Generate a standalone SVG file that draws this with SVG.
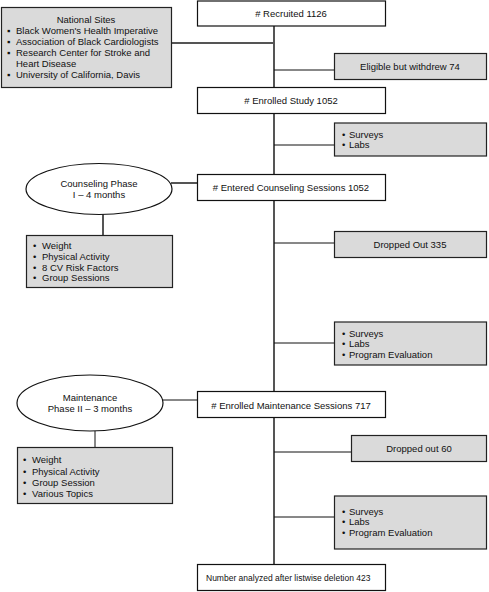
<svg xmlns="http://www.w3.org/2000/svg" width="489" height="592" viewBox="0 0 489 592">
<style>
text{font-family:"Liberation Sans",Arial,sans-serif;font-size:9.5px;fill:#111}
.c{text-anchor:middle}
.w{fill:#fff;stroke:#111;stroke-width:1.2}
.g{fill:#dadada;stroke:#222;stroke-width:1.2}
.trunk{stroke:#555;stroke-width:2;fill:none}
.br{stroke:#111;stroke-width:1;fill:none}
.sm{font-size:8.5px}
</style>
<rect width="489" height="592" fill="#fff"/>
<g id="connectors">
<line class="trunk" x1="274" y1="26" x2="274" y2="565"/>
<line class="trunk" x1="172" y1="43" x2="274" y2="43"/>
<line class="br" x1="274" y1="70" x2="334" y2="70"/>
<line class="br" x1="274" y1="145" x2="334" y2="145"/>
<line class="br" x1="274" y1="243" x2="334" y2="243"/>
<line class="br" x1="274" y1="343" x2="334" y2="343"/>
<line class="br" x1="274" y1="452" x2="351" y2="452"/>
<line class="br" x1="274" y1="517" x2="334" y2="517"/>
<line class="trunk" x1="171" y1="183" x2="197" y2="183"/>
<line class="trunk" x1="103" y1="214" x2="103" y2="235"/>
<line class="br" x1="162" y1="400" x2="197" y2="400"/>
<line class="br" x1="95" y1="431" x2="95" y2="447"/>
</g>
<g id="national-sites">
<rect class="g" x="1.5" y="7.5" width="170" height="80"/>
<text class="c" x="86" y="23">National Sites</text>
<text x="7" y="34">▪</text><text x="16" y="34">Black Women's Health Imperative</text>
<text x="7" y="45">▪</text><text x="16" y="45">Association of Black Cardiologists</text>
<text x="7" y="56">▪</text><text x="16" y="56">Research Center for Stroke and</text>
<text x="16" y="67">Heart Disease</text>
<text x="7" y="78">▪</text><text x="16" y="78">University of California, Davis</text>
</g>
<g id="recruited">
<rect class="w" x="197.5" y="1" width="188" height="25"/>
<text class="c" x="291" y="17">#  Recruited 1126</text>
</g>
<g id="withdrew">
<rect class="g" x="334.5" y="53.5" width="152" height="26"/>
<text class="c" x="410" y="70">Eligible but withdrew 74</text>
</g>
<g id="enrolled-study">
<rect class="w" x="197.5" y="87.5" width="188" height="26"/>
<text class="c" x="291" y="104">#  Enrolled Study 1052</text>
</g>
<g id="surveys1">
<rect class="g" x="334.5" y="123" width="152" height="33"/>
<text x="342" y="137.5">•</text><text x="349" y="137.5">Surveys</text>
<text x="342" y="148">•</text><text x="349" y="148">Labs</text>
</g>
<g id="counseling-phase">
<ellipse cx="99" cy="189" rx="73" ry="25.5" fill="#fff" stroke="#111" stroke-width="1.2"/>
<text class="c" x="99" y="187">Counseling Phase</text>
<text class="c" x="99" y="198">I – 4 months</text>
</g>
<g id="entered-counseling">
<rect class="w" x="197.5" y="174.5" width="188" height="26"/>
<text class="c" x="291" y="191">#  Entered Counseling Sessions 1052</text>
</g>
<g id="counseling-topics">
<rect class="g" x="26.5" y="235.5" width="146" height="52"/>
<text x="33" y="249">•</text><text x="42" y="249">Weight</text>
<text x="33" y="260">•</text><text x="42" y="260">Physical Activity</text>
<text x="33" y="270.5">•</text><text x="42" y="270.5">8 CV Risk Factors</text>
<text x="33" y="281">•</text><text x="42" y="281">Group Sessions</text>
</g>
<g id="dropped-335">
<rect class="g" x="334.5" y="231.5" width="152" height="26"/>
<text class="c" x="410" y="248">Dropped Out 335</text>
</g>
<g id="surveys2">
<rect class="g" x="334.5" y="322" width="152" height="43"/>
<text x="342" y="336.5">•</text><text x="349" y="336.5">Surveys</text>
<text x="342" y="347">•</text><text x="349" y="347">Labs</text>
<text x="342" y="357.5">•</text><text x="349" y="357.5">Program Evaluation</text>
</g>
<g id="maintenance-phase">
<ellipse cx="90" cy="403" rx="73" ry="28" fill="#fff" stroke="#111" stroke-width="1.2"/>
<text class="c" x="90" y="401">Maintenance</text>
<text class="c" x="90" y="412">Phase II – 3 months</text>
</g>
<g id="enrolled-maintenance">
<rect class="w" x="197.5" y="391.5" width="188" height="26"/>
<text class="c" x="291" y="408.5">#  Enrolled Maintenance Sessions 717</text>
</g>
<g id="dropped-60">
<rect class="g" x="351.5" y="435.5" width="135" height="26"/>
<text class="c" x="419" y="452">Dropped out 60</text>
</g>
<g id="maintenance-topics">
<rect class="g" x="17.5" y="447.5" width="155" height="56"/>
<text x="23" y="463">•</text><text x="32" y="463">Weight</text>
<text x="23" y="474.5">•</text><text x="32" y="474.5">Physical Activity</text>
<text x="23" y="485.5">•</text><text x="32" y="485.5">Group Session</text>
<text x="23" y="497">•</text><text x="32" y="497">Various Topics</text>
</g>
<g id="surveys3">
<rect class="g" x="334.5" y="496" width="152" height="53"/>
<text x="342" y="514.5">•</text><text x="349" y="514.5">Surveys</text>
<text x="342" y="525">•</text><text x="349" y="525">Labs</text>
<text x="342" y="535.5">•</text><text x="349" y="535.5">Program Evaluation</text>
</g>
<g id="analyzed">
<rect class="w" x="197.5" y="564.5" width="188" height="26"/>
<text class="sm" x="206" y="581">Number analyzed after listwise deletion 423</text>
</g>
</svg>
